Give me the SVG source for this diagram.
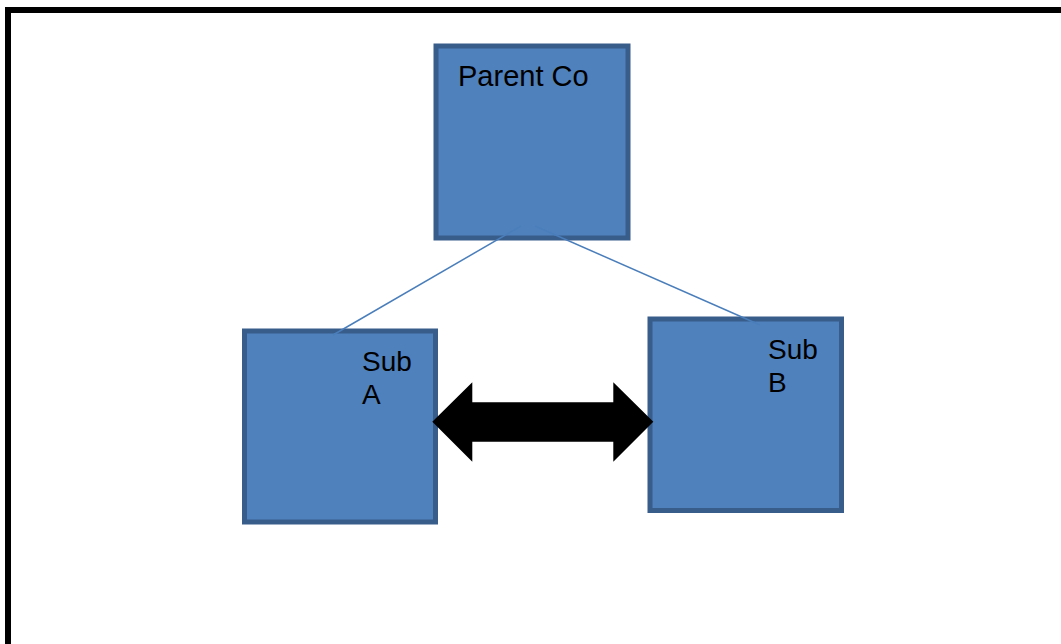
<svg xmlns="http://www.w3.org/2000/svg" width="1061" height="644" viewBox="0 0 1061 644">
<style>
.box{fill:#4F81BD;stroke:#385D8A;stroke-width:5}
.lbl{font-family:"Liberation Sans",Arial,sans-serif;font-size:28px;fill:#000}
.conn{stroke:#4A7EBB;stroke-width:1.5;fill:none}
</style>
<rect x="0" y="0" width="1061" height="644" fill="#fff"/>
<rect x="8" y="10" width="1100" height="700" fill="none" stroke="#000" stroke-width="6"/>
<g id="parent">
<rect class="box" x="436" y="46" width="192" height="192"/>
<text class="lbl" x="458" y="86" style="font-size:29px">Parent Co</text>
</g>
<g id="subA">
<rect class="box" x="244.5" y="331" width="191" height="191"/>
<text class="lbl" x="362" y="371">Sub</text>
<text class="lbl" x="362" y="404">A</text>
</g>
<g id="subB">
<rect class="box" x="650" y="319" width="191.5" height="191.5"/>
<text class="lbl" x="768" y="359">Sub</text>
<text class="lbl" x="768" y="392">B</text>
</g>
<g id="connectors">
<line class="conn" x1="521" y1="226" x2="333" y2="335"/>
<line class="conn" x1="535" y1="226" x2="760" y2="325"/>
</g>
<g id="arrow">
<polygon points="432.3,421.7 472.3,382.3 472.3,402.3 613.3,402.3 613.3,382.3 653.3,421.7 613.3,461.7 613.3,441.7 472.3,441.7 472.3,461.7" fill="#000"/>
</g>
</svg>
